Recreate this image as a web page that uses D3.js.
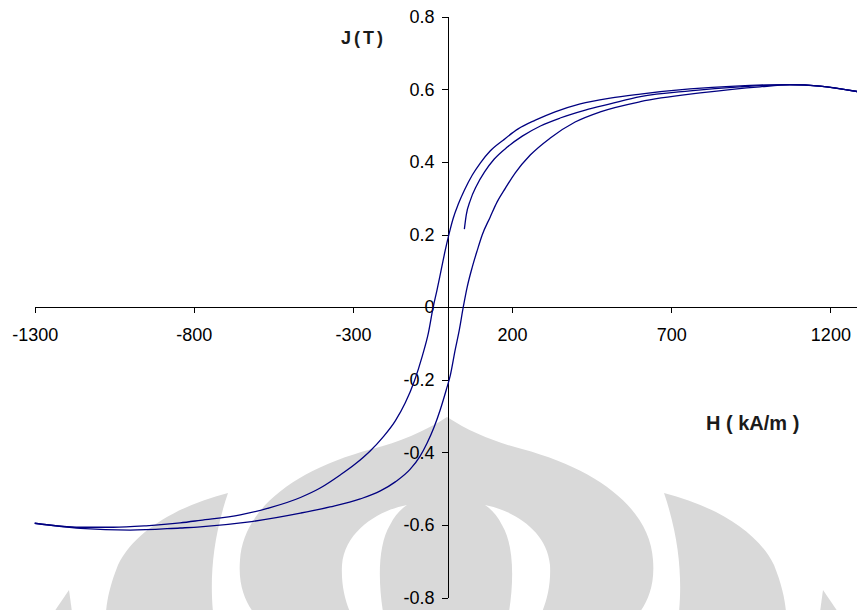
<!DOCTYPE html>
<html>
<head>
<meta charset="utf-8">
<style>
  *{margin:0;padding:0;box-sizing:border-box}
  body{background:#fff;width:857px;height:610px;overflow:hidden}
  svg{display:block}
  .tick text{font-family:"Liberation Sans",Arial,sans-serif;font-size:18px;fill:#000}
</style>
</head>
<body>
<svg id="g"></svg>
<script src="https://cdn.jsdelivr.net/npm/d3@7/dist/d3.min.js"></script>
<script>
// J(H) hysteresis loop, H in kA/m, J in T
// descending branch (from +Hmax down to -Hmax), listed in ascending H
const descH = [-1300, -1156, -1053, -950, -843, -780, -654, -560, -465, -403, -340, -293, -246, -205, -167, -136, -107, -82, -63, -48, -36, -23, -10, 2.5, 15, 31, 50, 75, 100, 131, 172, 219, 273, 335, 414, 508, 603, 759, 901, 1073, 1167, 1284];
const descJ = [-0.595, -0.606, -0.606, -0.602, -0.594, -0.587, -0.572, -0.552, -0.524, -0.498, -0.462, -0.432, -0.396, -0.357, -0.313, -0.264, -0.203, -0.134, -0.071, 0, 0.047, 0.102, 0.157, 0.204, 0.245, 0.284, 0.322, 0.364, 0.397, 0.430, 0.460, 0.491, 0.515, 0.538, 0.560, 0.576, 0.587, 0.601, 0.609, 0.613, 0.609, 0.594];
// ascending branch (from -Hmax up to +Hmax)
const ascH = [-1300, -1156, -1000, -843, -780, -632, -465, -372, -277, -214, -167, -120, -89, -67, -45, -26, -7, 6, 21, 34, 46.5, 59, 75, 91, 106, 131, 153, 179, 210, 257, 320, 398, 477, 603, 791, 979, 1073, 1167, 1284];
const ascJ = [-0.595, -0.609, -0.614, -0.608, -0.605, -0.592, -0.567, -0.550, -0.528, -0.506, -0.481, -0.446, -0.410, -0.374, -0.330, -0.283, -0.228, -0.187, -0.118, -0.063, 0, 0.056, 0.111, 0.158, 0.199, 0.248, 0.290, 0.328, 0.370, 0.419, 0.466, 0.510, 0.538, 0.566, 0.590, 0.607, 0.612, 0.609, 0.594];
// branch starting near H = 50 kA/m
const initH = [50, 56, 69, 88, 113, 144, 185, 232, 289, 351, 430, 508, 603, 759, 916, 1073, 1167, 1284];
const initJ = [0.215, 0.254, 0.295, 0.334, 0.372, 0.408, 0.441, 0.471, 0.499, 0.521, 0.543, 0.560, 0.580, 0.596, 0.607, 0.613, 0.609, 0.594];

const xTicks = [-1300, -800, -300, 200, 700, 1200];
const yTicks = [-0.8, -0.6, -0.4, -0.2, 0, 0.2, 0.4, 0.6, 0.8];

const W = 857, H = 610;
const svg = d3.select('#g').attr('width', W).attr('height', H);

// grey watermark behind the plot
const wm = svg.append('g').attr('fill', '#d9d9d9');
const mir = p => p.replace(/(-?\d+(?:\.\d+)?),(-?\d+(?:\.\d+)?)/g, (m, a, b) => (892 - a) + ',' + b);
wm.append('path').attr('d',
  'M447,417 C470,432 495,442 522,449 C600,470 650,510 653,560 C655,585 648,600 640,612 L253,612 ' +
  'C245,600 238,585 240,560 C243,510 293,470 372,449 C399,442 424,432 447,417 Z');
const holeL = 'M407,505 C380,510 345,530 342,565 C341,585 345,600 350,612 L383,612 C378,580 378,545 390,525 C395,515 401,509 407,505 Z';
wm.append('path').attr('d', holeL).attr('fill', '#fff');
wm.append('path').attr('d', mir(holeL)).attr('fill', '#fff');
const wingL = 'M228,493 C180,505 135,530 118,565 C110,585 107,600 106,612 L213,612 C210,580 212,540 228,493 Z';
wm.append('path').attr('d', wingL);
wm.append('path').attr('d', mir(wingL));
const spikeL = 'M69,590 L54,612 L72,612 Z';
wm.append('path').attr('d', spikeL);
wm.append('path').attr('d', mir(spikeL));

const x = d3.scaleLinear().domain([-1300, 1300]).range([34.7, 862.2]);
const y = d3.scaleLinear().domain([-0.8, 0.8]).range([597.7, 16.7]);

// axes cross at the origin
svg.append('g')
  .attr('transform', `translate(0,${y(0)})`)
  .call(d3.axisBottom(x).tickValues(xTicks).tickSize(6).tickSizeOuter(0).tickPadding(15)
    .tickFormat(d => String(d)))
  .call(g => g.selectAll('line,path').attr('stroke', '#000').attr('shape-rendering', 'crispEdges'));

svg.append('g')
  .attr('transform', `translate(${x(0)},0)`)
  .call(d3.axisLeft(y).tickValues(yTicks).tickSize(6).tickSizeOuter(0).tickPadding(8)
    .tickFormat(d => d === 0 ? '0' : d.toFixed(1)))
  .call(g => g.selectAll('line,path').attr('stroke', '#000').attr('shape-rendering', 'crispEdges'));

const line = d3.line().x(d => x(d[0])).y(d => y(d[1])).curve(d3.curveMonotoneX);
const series = [
  d3.zip(descH, descJ),
  d3.zip(ascH, ascJ),
  d3.zip(initH, initJ)
];
svg.append('g').selectAll('path').data(series).join('path')
  .attr('d', line)
  .attr('fill', 'none')
  .attr('stroke', '#000080')
  .attr('stroke-width', 1.3);

// axis titles
svg.append('text').attr('x', 383).attr('y', 44).attr('text-anchor', 'end')
  .attr('font-family', 'Liberation Sans, Arial, sans-serif').attr('font-weight', 'bold')
  .attr('font-size', 18).attr('word-spacing', -2).attr('fill', '#1a1a1a').text('J ( T )');
svg.append('text').attr('x', 706).attr('y', 430)
  .attr('font-family', 'Liberation Sans, Arial, sans-serif').attr('font-weight', 'bold')
  .attr('font-size', 20).attr('fill', '#1a1a1a').text('H ( kA/m )');
</script>
</body>
</html>
